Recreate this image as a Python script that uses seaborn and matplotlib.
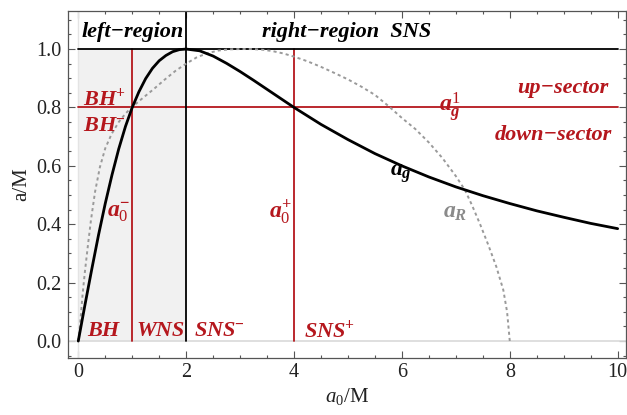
import matplotlib
matplotlib.use("Agg")
import matplotlib.pyplot as plt
import seaborn as sns
import pandas as pd
from matplotlib.ticker import MultipleLocator

# ---- data ----
ag_x = [0, 0.125, 0.25, 0.375, 0.5, 0.625, 0.75, 0.875, 1.0, 1.125, 1.25, 1.375, 1.5,
        1.625, 1.75, 1.875, 2.0, 2.25, 2.5, 2.75, 3.0, 3.25, 3.5, 3.75, 4.0, 4.5, 5.0,
        5.5, 6.0, 6.5, 7.0, 7.5, 8.0, 8.5, 9.0, 9.5, 10.0]
ag_y = [0.0, 0.125, 0.246, 0.363, 0.471, 0.569, 0.658, 0.735, 0.800, 0.854, 0.899,
        0.934, 0.960, 0.978, 0.991, 0.998, 1.000, 0.994, 0.976, 0.951, 0.923, 0.893,
        0.862, 0.831, 0.800, 0.742, 0.690, 0.642, 0.600, 0.562, 0.528, 0.498, 0.471,
        0.446, 0.424, 0.403, 0.385]

ar_x = [0.0, 0.03, 0.08, 0.12, 0.18, 0.235, 0.31, 0.40, 0.50, 0.62, 0.75, 0.88, 1.0,
        1.2, 1.4, 1.6, 1.8, 2.0, 2.2, 2.4, 2.6, 2.8, 3.0, 3.2, 3.4, 3.6, 3.8, 4.0,
        4.25, 4.5, 4.75, 5.0, 5.25, 5.5, 5.75, 6.0, 6.25, 6.5, 6.75, 7.0, 7.17, 7.3,
        7.45, 7.6, 7.75, 7.88, 7.95, 8.0]
ar_y = [0.0, 0.05, 0.16, 0.233, 0.33, 0.414, 0.51, 0.595, 0.66, 0.71, 0.75, 0.78,
        0.802, 0.833, 0.863, 0.895, 0.925, 0.95, 0.972, 0.986, 0.995, 0.999, 1.0, 1.0,
        0.998, 0.993, 0.985, 0.974, 0.958, 0.939, 0.918, 0.896, 0.871, 0.843, 0.805,
        0.764, 0.726, 0.68, 0.627, 0.565, 0.517, 0.465, 0.40, 0.33, 0.255, 0.175,
        0.10, 0.0]

a_sector = 0.8          # horizontal red line a_g^1
a0_minus = 1.0
a0_plus = 4.0
a0_left_right = 2.0
a_extreme = 1.0
shade_x = [0, 2]

xticks = [0, 2, 4, 6, 8, 10]
yticks = [0.0, 0.2, 0.4, 0.6, 0.8, 1.0]

RED = "#b5171d"

sns.set_theme(style="ticks")
plt.rcParams["font.family"] = ["Liberation Serif", "DejaVu Serif"]
plt.rcParams["mathtext.fontset"] = "custom"
plt.rcParams["mathtext.rm"] = "Liberation Serif"
plt.rcParams["mathtext.it"] = "Liberation Serif:italic:bold"
plt.rcParams["mathtext.bf"] = "Liberation Serif:bold"
plt.rcParams["mathtext.sf"] = "Liberation Serif:italic"

fig = plt.figure(figsize=(6.27, 4.15), dpi=100)
ax = fig.add_axes([0.1085, 0.1373, 0.8895, 0.8367])

# shaded left region
ax.fill_between(shade_x, 0, a_extreme, color="#f1f1f1", lw=0, zorder=0)
# mathematica-like axes
ax.axhline(0, color="#dcdcdc", lw=1.3, zorder=1)
ax.axvline(0, color="#e4e4e4", lw=1.0, zorder=1)

# red guide lines
ax.plot([0, 10], [a_sector, a_sector], color=RED, lw=1.3, zorder=2)
ax.plot([a0_minus, a0_minus], [0, a_extreme], color=RED, lw=1.3, zorder=2)
ax.plot([a0_plus, a0_plus], [0, a_extreme], color=RED, lw=1.3, zorder=2)
# black guide lines
ax.plot([0, 10], [a_extreme, a_extreme], color="black", lw=1.3, zorder=2)
ax.plot([a0_left_right, a0_left_right], [0, 1.2], color="black", lw=1.3, zorder=2)

df_g = pd.DataFrame({"x": ag_x, "y": ag_y})
df_r = pd.DataFrame({"x": ar_x, "y": ar_y})
sns.lineplot(data=df_r, x="x", y="y", ax=ax, color="#9a9a9a", lw=1.4, sort=False,
             estimator=None, zorder=3)
ax.lines[-1].set_dashes([1.6, 1.6])
sns.lineplot(data=df_g, x="x", y="y", ax=ax, color="black", lw=2.0, sort=False,
             estimator=None, zorder=4)

ax.set_xlim(-0.19, 10.15)
ax.set_ylim(-0.058, 1.131)
ax.set_xticks(xticks)
ax.set_yticks(yticks)
ax.set_xticklabels([str(t) for t in xticks])
ax.set_yticklabels([f"{t:.1f}" for t in yticks])
ax.xaxis.set_minor_locator(MultipleLocator(0.5))
ax.yaxis.set_minor_locator(MultipleLocator(0.05))
ax.tick_params(which="both", direction="in", top=True, right=True, color="#555555",
               width=0.8, labelsize=14.5, labelcolor="#222222")
ax.tick_params(which="major", length=5)
ax.tick_params(which="minor", length=2.5)
ax.tick_params(axis="y", pad=5)
for s in ax.spines.values():
    s.set_color("#555555")
    s.set_linewidth(0.9)

ax.set_xlabel(r"$\mathsf{a}_0$/M", fontsize=15, color="#222222", labelpad=3)
ax.set_ylabel("a/M", fontsize=15, color="#222222", labelpad=3)

bi = dict(fontweight="bold", fontstyle="italic", fontsize=16)
ax.text(1.0, 1.058, "left\u2212region", color="black", ha="center", va="center", **bi)
ax.text(3.41, 1.058, "right\u2212region  SNS", color="black", ha="left", va="center", **bi)
ax.text(0.08, 0.828, r"BH$^{\mathbf{+}}$", color=RED, ha="left", va="center", **bi)
ax.text(0.08, 0.735, r"BH$^{\mathbf{-}}$", color=RED, ha="left", va="center", **bi)
ax.text(0.97, 0.44, r"$a_{\mathit{0}}^{\mathbf{-}}$", color=RED, ha="right", va="center", fontsize=17)
ax.text(3.97, 0.44, r"$a_{\mathit{0}}^{\mathbf{+}}$", color=RED, ha="right", va="center", fontsize=17)
ax.text(6.9, 0.80, r"$a_{g}^{\mathit{1}}$", color=RED, ha="center", va="center", fontsize=17)
ax.text(9.82, 0.868, "up\u2212sector", color=RED, ha="right", va="center", **bi)
ax.text(9.9, 0.705, "down\u2212sector", color=RED, ha="right", va="center", **bi)
ax.text(5.98, 0.575, r"$a_g$", color="black", ha="center", va="center", fontsize=17)
ax.text(6.98, 0.44, r"$a_R$", color="#8a8a8a", ha="center", va="center", fontsize=17)
ax.text(0.47, 0.035, "BH", color=RED, ha="center", va="center", **bi)
ax.text(1.52, 0.035, "WNS", color=RED, ha="center", va="center", **bi)
ax.text(2.15, 0.035, r"SNS$^{\mathbf{-}}$", color=RED, ha="left", va="center", **bi)
ax.text(4.18, 0.035, r"SNS$^{\mathbf{+}}$", color=RED, ha="left", va="center", **bi)

fig.savefig("out.png", dpi=100)
